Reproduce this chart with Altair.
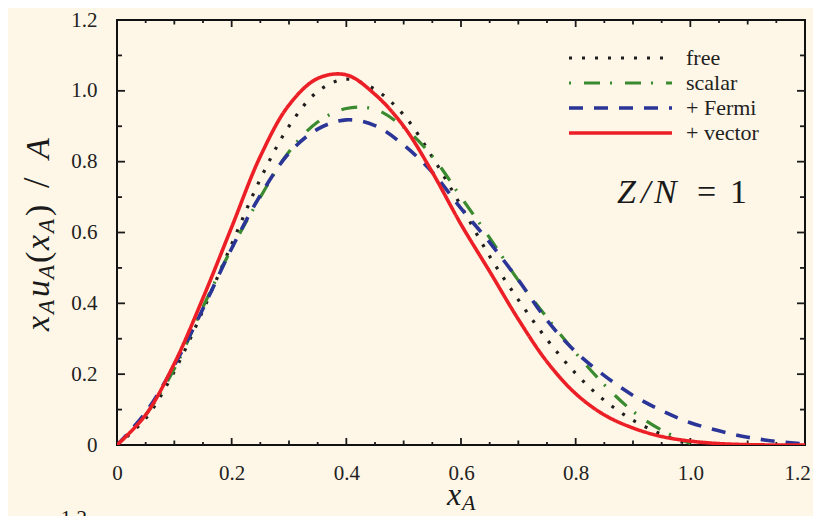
import altair as alt
import pandas as pd

# ---------------- data ----------------
x_free = [0, 0.05, 0.1, 0.15, 0.2, 0.25, 0.3, 0.35, 0.4, 0.45, 0.5, 0.55, 0.6, 0.65, 0.7, 0.75, 0.8, 0.85, 0.9, 0.95, 1.0]
y_free = [0, 0.075, 0.208, 0.38, 0.567, 0.751, 0.9, 0.998, 1.033, 1.004, 0.932, 0.813, 0.675, 0.533, 0.41, 0.298, 0.202, 0.126, 0.07, 0.03, 0.0]

x_scalar = [0, 0.05, 0.1, 0.15, 0.2, 0.25, 0.3, 0.35, 0.4, 0.45, 0.5, 0.55, 0.6, 0.65, 0.7, 0.75, 0.8, 0.85, 0.9, 0.95, 1.0]
y_scalar = [0, 0.085, 0.215, 0.39, 0.555, 0.70, 0.828, 0.912, 0.95, 0.948, 0.897, 0.815, 0.70, 0.585, 0.465, 0.36, 0.26, 0.17, 0.095, 0.042, 0.004]

x_fermi = [0, 0.05, 0.1, 0.15, 0.2, 0.25, 0.3, 0.35, 0.4, 0.45, 0.5, 0.55, 0.6, 0.65, 0.7, 0.75, 0.8, 0.85, 0.9, 0.95, 1.0, 1.05, 1.1, 1.15, 1.2]
y_fermi = [0, 0.092, 0.225, 0.385, 0.555, 0.705, 0.824, 0.892, 0.918, 0.902, 0.847, 0.77, 0.668, 0.572, 0.466, 0.352, 0.263, 0.196, 0.14, 0.097, 0.063, 0.04, 0.022, 0.01, 0.003]

x_vector = [0, 0.05, 0.1, 0.15, 0.2, 0.25, 0.3, 0.35, 0.4, 0.45, 0.5, 0.55, 0.6, 0.65, 0.7, 0.75, 0.8, 0.85, 0.9, 0.95, 1.0, 1.05, 1.1, 1.15, 1.2]
y_vector = [0, 0.085, 0.23, 0.415, 0.615, 0.815, 0.96, 1.035, 1.045, 0.99, 0.9, 0.77, 0.623, 0.49, 0.355, 0.235, 0.145, 0.085, 0.048, 0.024, 0.011, 0.004, 0.001, 0.0, 0.0]

series_names = ["free", "scalar", "+ Fermi", "+ vector"]
series_x = [x_free, x_scalar, x_fermi, x_vector]
series_y = [y_free, y_scalar, y_fermi, y_vector]

axis_values = [0, 0.2, 0.4, 0.6, 0.8, 1.0, 1.2]
x_tick_values = [round(0.05 * i, 2) for i in range(1, 24)]
y_tick_values = [round(0.1 * i, 2) for i in range(1, 12)]

# ---------------- styles ----------------
W, H = 688, 425
BG = "#fef7e7"
FONT = "Liberation Serif"
colors = ["#1e1e1e", "#3a8a30", "#2a3597", "#ec1f27"]
dashes = [[3, 10], [16, 10, 2, 13], [14, 11], [1, 0]]
widths = [3.2, 3.2, 3.6, 3.6]
legend_dash_offset = [0, 26, 0, 0]

xs = alt.Scale(domain=[0, 1.2], nice=False, zero=False)
ys = alt.Scale(domain=[0, 1.2], nice=False, zero=False)
px_x = W / 1.2
px_y = H / 1.2

label_expr = "datum.value == 0 ? '0' : format(datum.value, '.1f')"
x_axis = alt.Axis(values=axis_values, labelExpr=label_expr, ticks=False, tickSize=0, domain=False,
                  grid=False, title=None, labelFont=FONT, labelFontSize=21, labelColor="#222",
                  labelPadding=17, labelFlush=False, labelOverlap=False,
                  labelOffset={"condition": {"test": "datum.value > 1.1", "value": -8}, "value": 0})
y_axis = alt.Axis(values=axis_values, labelExpr=label_expr, ticks=False, tickSize=0, domain=False,
                  grid=False, title=None, labelFont=FONT, labelFontSize=21, labelColor="#222",
                  labelPadding=20, labelFlush=False, labelOverlap=False)

layers = []

# tick marks drawn inward on all four sides
def xlen(v):
    r = round(v / 0.05)
    if r % 4 == 0:
        return 7.0
    if r % 2 == 0:
        return 4.5
    return 3.0

def ylen(v):
    r = round(v / 0.1)
    return 8.0 if r % 2 == 0 else 5.0

xt = pd.DataFrame({"v": x_tick_values})
xt["l"] = [xlen(v) / px_y for v in x_tick_values]
xt["b0"] = 0.0
xt["b1"] = xt["l"]
xt["t0"] = 1.2
xt["t1"] = 1.2 - xt["l"]
yt = pd.DataFrame({"v": y_tick_values})
yt["l"] = [ylen(v) / px_x for v in y_tick_values]
yt["l0"] = 0.0
yt["l1"] = yt["l"]
yt["r0"] = 1.2
yt["r1"] = 1.2 - yt["l"]

tick_style = dict(color="#1a1a1a", strokeWidth=1.8)
layers.append(alt.Chart(xt).mark_rule(**tick_style).encode(
    x=alt.X("v:Q", scale=xs, axis=x_axis), y=alt.Y("b0:Q", scale=ys, axis=y_axis), y2="b1"))
layers.append(alt.Chart(xt).mark_rule(**tick_style).encode(
    x=alt.X("v:Q", scale=xs, axis=x_axis), y=alt.Y("t0:Q", scale=ys, axis=y_axis), y2="t1"))
layers.append(alt.Chart(yt).mark_rule(**tick_style).encode(
    y=alt.Y("v:Q", scale=ys, axis=y_axis), x=alt.X("l0:Q", scale=xs, axis=x_axis), x2="l1"))
layers.append(alt.Chart(yt).mark_rule(**tick_style).encode(
    y=alt.Y("v:Q", scale=ys, axis=y_axis), x=alt.X("r0:Q", scale=xs, axis=x_axis), x2="r1"))

# curves
for name, xv, yv, c, d, w in zip(series_names, series_x, series_y, colors, dashes, widths):
    df = pd.DataFrame({"x": xv, "y": yv, "series": name})
    layers.append(alt.Chart(df).mark_line(color=c, strokeWidth=w, strokeDash=d, interpolate="catmull-rom",
                                          clip=True, strokeCap="butt").encode(
        x=alt.X("x:Q", scale=xs, axis=x_axis), y=alt.Y("y:Q", scale=ys, axis=y_axis)))

# legend (drawn manually)
LEG_X0, LEG_X1, LEG_TX, LEG_Y0, LEG_DY = 452, 555, 569, 38, 25
for i, (name, c, d, w, off) in enumerate(zip(series_names, colors, dashes, widths, legend_dash_offset)):
    ld = pd.DataFrame({"t": [name]})
    yy = LEG_Y0 + LEG_DY * i
    layers.append(alt.Chart(ld).mark_rule(color=c, strokeWidth=w, strokeDash=d, strokeDashOffset=off,
                                          strokeCap="butt").encode(
        x=alt.value(LEG_X0), x2=alt.value(LEG_X1), y=alt.value(yy)))
    layers.append(alt.Chart(ld).mark_text(font=FONT, fontSize=22, color="#222", align="left",
                                          baseline="alphabetic").encode(
        text="t:N", x=alt.value(LEG_TX), y=alt.value(yy + 7)))

# text pieces: (text, x, y, size, style, angle)
pieces = [
    # Z/N = 1
    ("Z", 500, 183, 34, "italic", 0),
    ("/", 524, 183, 34, "italic", 0),
    ("N", 537, 183, 34, "italic", 0),
    ("=", 580, 183, 34, "normal", 0),
    ("1", 613, 183, 34, "normal", 0),
    # x-axis title x_A
    ("x", 330, 485, 32, "italic", 0),
    ("A", 345, 490, 22, "italic", 0),
    # y-axis title  x_A u_A(x_A) / A
    ("x", -68, 311, 34, "italic", 270),
    ("A", -63, 294, 23, "italic", 270),
    ("u", -68, 277, 34, "italic", 270),
    ("A", -63, 259, 23, "italic", 270),
    ("(", -68, 243, 34, "normal", 270),
    ("x", -68, 230, 34, "italic", 270),
    ("A", -63, 213, 23, "italic", 270),
    (")", -68, 196, 34, "normal", 270),
    ("/", -68, 168, 38, "normal", 270),
    ("A", -68, 139, 34, "italic", 270),
    # cut-off label of the panel below
    ("1.2", -30, 488, 21, "normal", 0),
]
for t, px, py, fs, st, ang in pieces:
    td = pd.DataFrame({"t": [t]})
    base = "top" if t == "1.2" else "alphabetic"
    al = "right" if t == "1.2" else "left"
    layers.append(alt.Chart(td).mark_text(font=FONT, fontSize=fs, fontStyle=st, angle=ang, color="#1a1a1a",
                                          align=al, baseline=base).encode(
        text="t:N", x=alt.value(px), y=alt.value(py)))

chart = alt.layer(*layers).properties(
    width=W, height=H, background=BG,
    autosize=alt.AutoSizeParams(type="none"),
    padding={"left": 109, "top": 12, "right": 8, "bottom": 71},
).configure_view(stroke="#111", strokeWidth=2, fill=BG)

chart.save("out.html", embed_options={"renderer": "svg", "actions": False})
